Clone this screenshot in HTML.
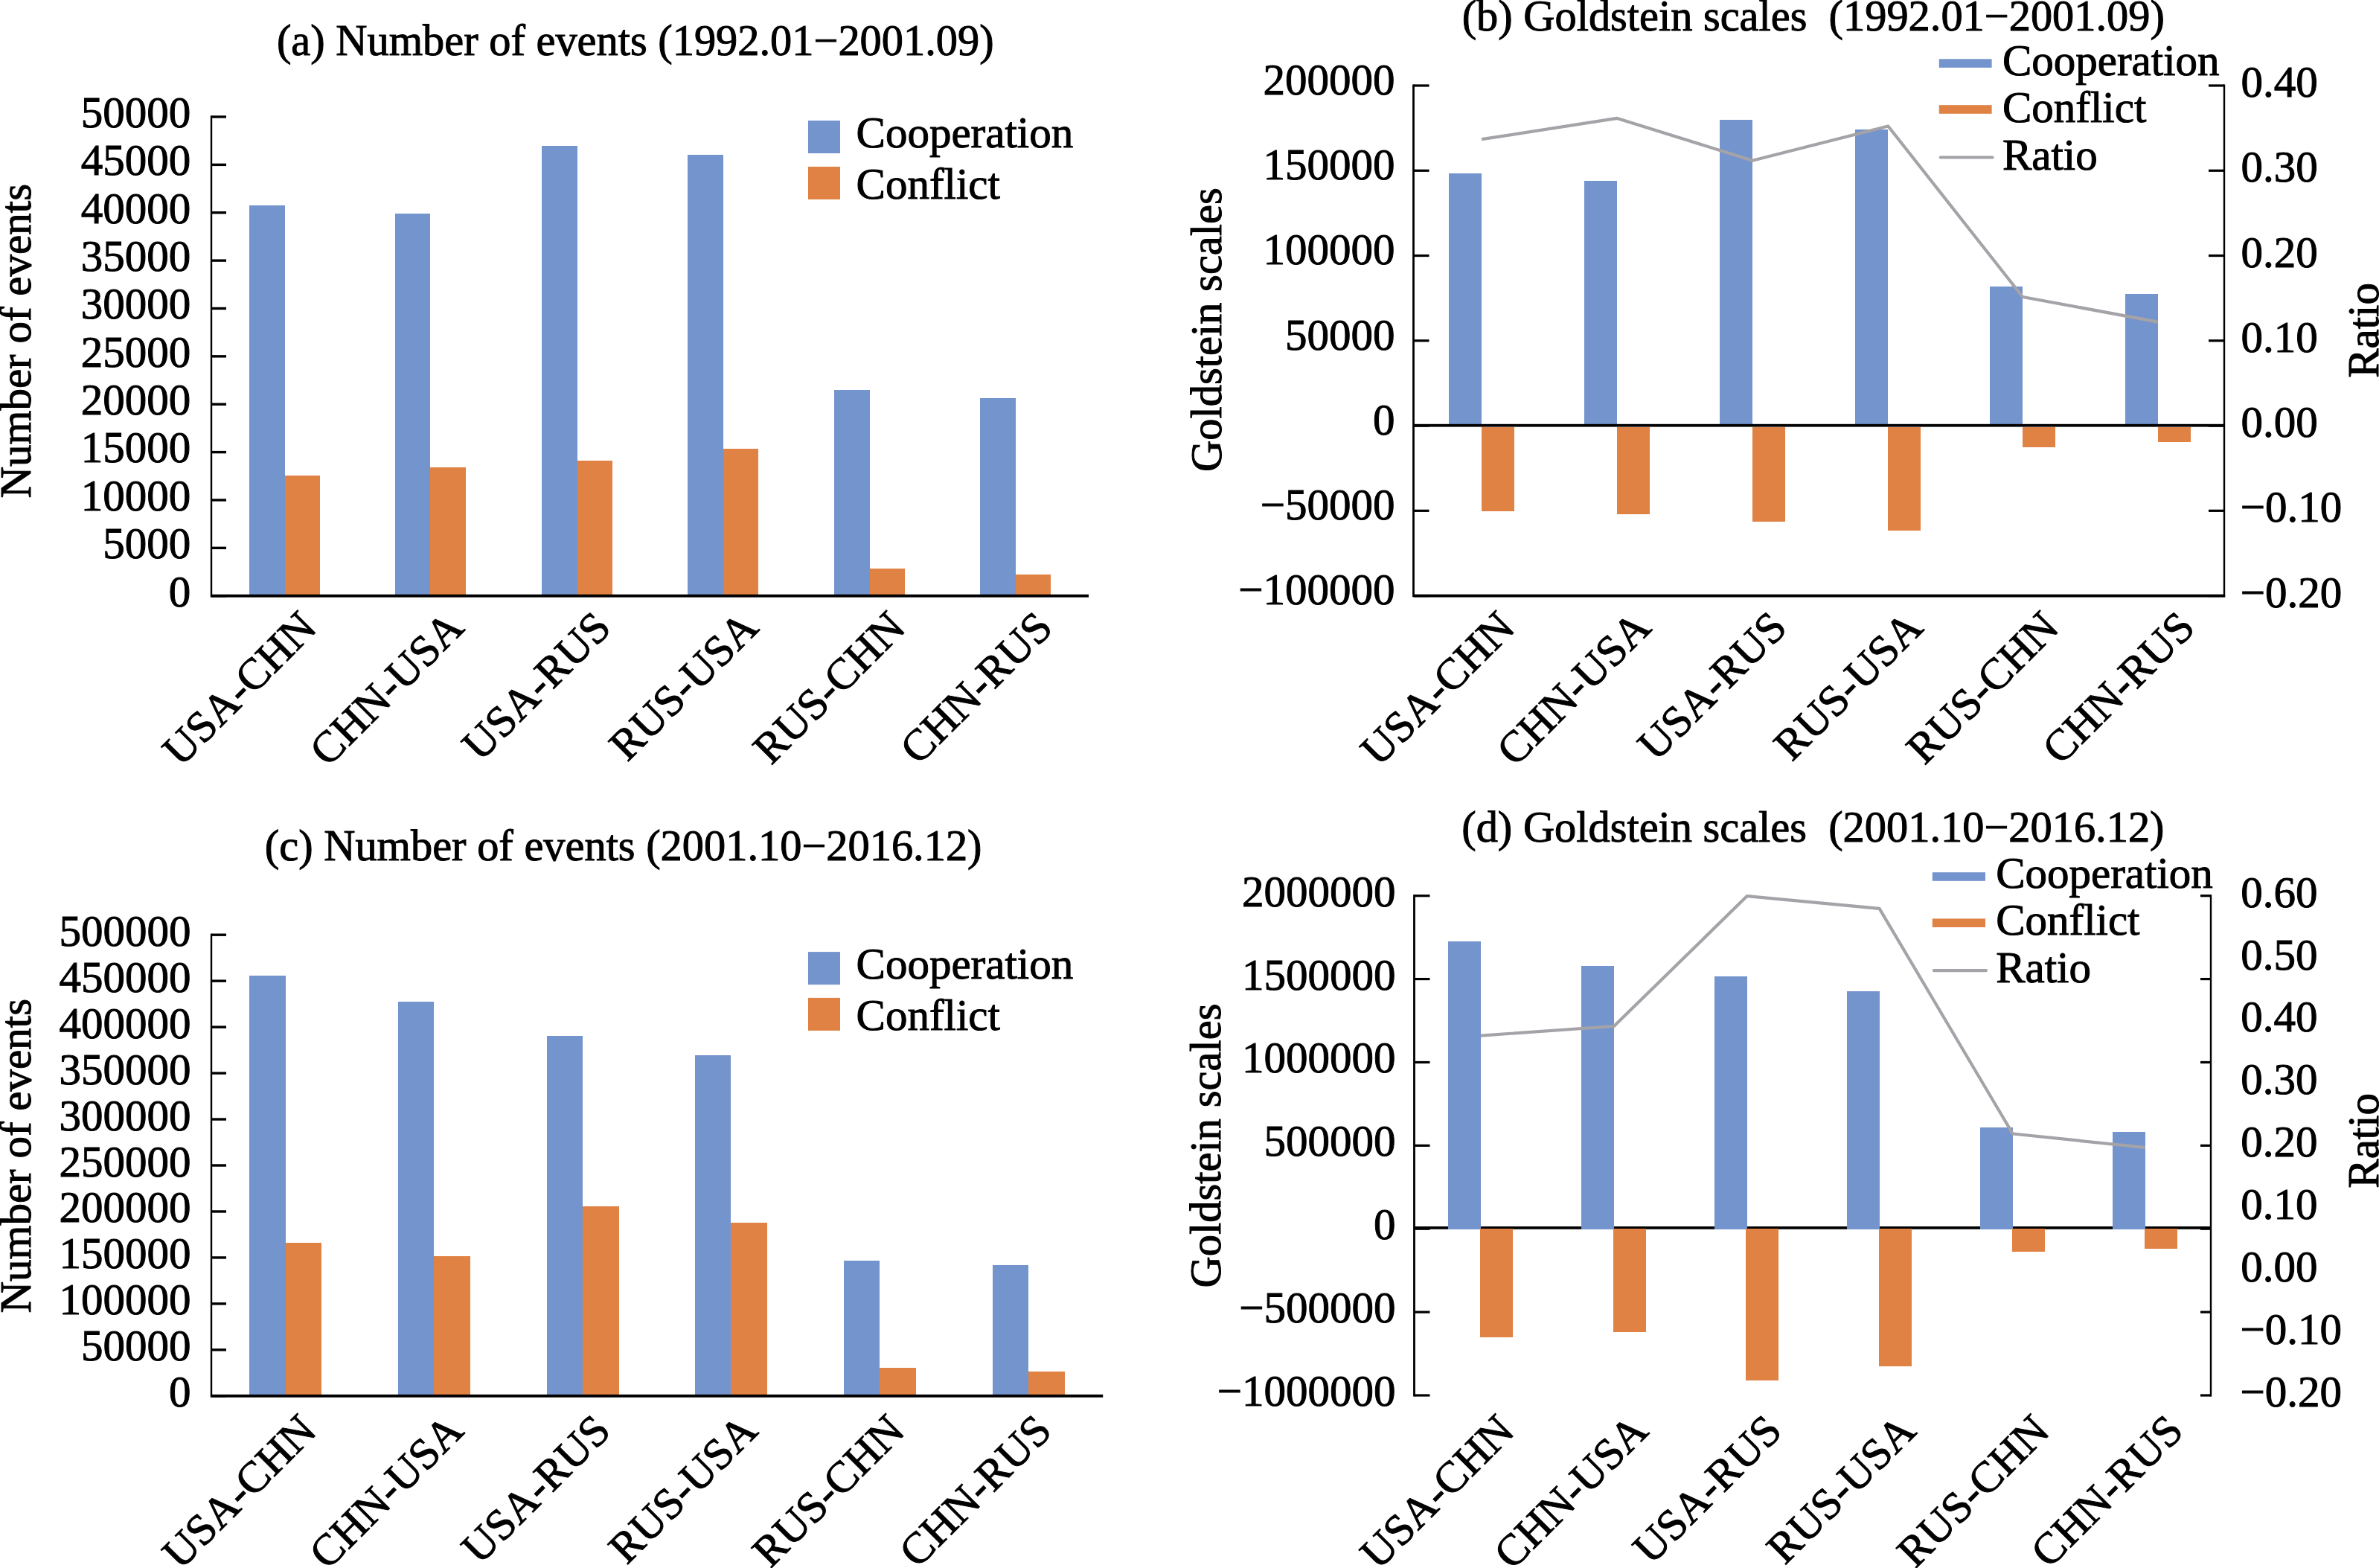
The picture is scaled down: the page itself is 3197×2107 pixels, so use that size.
<!DOCTYPE html>
<html><head><meta charset="utf-8"><style>
html,body{margin:0;padding:0;background:#fff;overflow:hidden;}
svg{display:block;}
text{font-family:"Liberation Serif",serif;fill:#000;white-space:pre;font-variant-ligatures:none;font-feature-settings:"liga" 0,"clig" 0;stroke:#000;stroke-width:1.0px;}
</style></head><body>
<svg width="3197" height="2107" viewBox="0 0 3197 2107">
<rect width="3197" height="2107" fill="#fff"/>
<rect x="335" y="276" width="48" height="523" fill="#7394cd"/>
<rect x="383" y="639" width="47" height="160" fill="#e08243"/>
<rect x="531" y="287" width="47" height="512" fill="#7394cd"/>
<rect x="578" y="628" width="48" height="171" fill="#e08243"/>
<rect x="728" y="196" width="48" height="603" fill="#7394cd"/>
<rect x="776" y="619" width="47" height="180" fill="#e08243"/>
<rect x="924" y="208" width="48" height="591" fill="#7394cd"/>
<rect x="972" y="603" width="47" height="196" fill="#e08243"/>
<rect x="1121" y="524" width="48" height="275" fill="#7394cd"/>
<rect x="1169" y="764" width="47" height="35" fill="#e08243"/>
<rect x="1317" y="535" width="48" height="264" fill="#7394cd"/>
<rect x="1365" y="772" width="47" height="27" fill="#e08243"/>
<rect x="282.80" y="155.50" width="2.40" height="645.20" fill="#000"/>
<rect x="284.00" y="155.30" width="20.00" height="3.40" fill="#000"/>
<text x="256.30" y="170.80" font-size="59" text-anchor="end">50000</text>
<rect x="284.00" y="219.67" width="20.00" height="3.40" fill="#000"/>
<text x="256.30" y="235.17" font-size="59" text-anchor="end">45000</text>
<rect x="284.00" y="284.04" width="20.00" height="3.40" fill="#000"/>
<text x="256.30" y="299.54" font-size="59" text-anchor="end">40000</text>
<rect x="284.00" y="348.41" width="20.00" height="3.40" fill="#000"/>
<text x="256.30" y="363.91" font-size="59" text-anchor="end">35000</text>
<rect x="284.00" y="412.78" width="20.00" height="3.40" fill="#000"/>
<text x="256.30" y="428.28" font-size="59" text-anchor="end">30000</text>
<rect x="284.00" y="477.15" width="20.00" height="3.40" fill="#000"/>
<text x="256.30" y="492.65" font-size="59" text-anchor="end">25000</text>
<rect x="284.00" y="541.52" width="20.00" height="3.40" fill="#000"/>
<text x="256.30" y="557.02" font-size="59" text-anchor="end">20000</text>
<rect x="284.00" y="605.89" width="20.00" height="3.40" fill="#000"/>
<text x="256.30" y="621.39" font-size="59" text-anchor="end">15000</text>
<rect x="284.00" y="670.26" width="20.00" height="3.40" fill="#000"/>
<text x="256.30" y="685.76" font-size="59" text-anchor="end">10000</text>
<rect x="284.00" y="734.63" width="20.00" height="3.40" fill="#000"/>
<text x="256.30" y="750.13" font-size="59" text-anchor="end">5000</text>
<rect x="284.00" y="799.00" width="20.00" height="3.40" fill="#000"/>
<text x="256.30" y="814.50" font-size="59" text-anchor="end">0</text>
<rect x="282.80" y="798.75" width="1180.20" height="3.90" fill="#000"/>
<text x="428.20" y="846.20" font-size="59" text-anchor="end" transform="rotate(-45 428.20 846.20)">USA-CHN</text>
<text x="626.00" y="846.20" font-size="59" text-anchor="end" transform="rotate(-45 626.00 846.20)">CHN-USA</text>
<text x="823.80" y="846.20" font-size="59" text-anchor="end" transform="rotate(-45 823.80 846.20)">USA-RUS</text>
<text x="1021.60" y="846.20" font-size="59" text-anchor="end" transform="rotate(-45 1021.60 846.20)">RUS-USA</text>
<text x="1219.40" y="846.20" font-size="59" text-anchor="end" transform="rotate(-45 1219.40 846.20)">RUS-CHN</text>
<text x="1417.20" y="846.20" font-size="59" text-anchor="end" transform="rotate(-45 1417.20 846.20)">CHN-RUS</text>
<text x="371.93" y="74.10" font-size="58.4">(a) Number of events (1992.01−2001.09)</text>
<rect x="1086.00" y="162.00" width="43.00" height="44.00" fill="#7394cd"/>
<rect x="1086.00" y="224.00" width="43.00" height="44.00" fill="#e08243"/>
<text x="1150.58" y="198.30" font-size="59">Cooperation</text>
<text x="1150.58" y="267.20" font-size="59">Conflict</text>
<text x="41.30" y="669.61" font-size="59" transform="rotate(-90 41.30 669.61)">Number of events</text>
<rect x="335" y="1311" width="49" height="563" fill="#7394cd"/>
<rect x="384" y="1670" width="48" height="204" fill="#e08243"/>
<rect x="535" y="1346" width="48" height="528" fill="#7394cd"/>
<rect x="583" y="1688" width="49" height="186" fill="#e08243"/>
<rect x="735" y="1392" width="48" height="482" fill="#7394cd"/>
<rect x="783" y="1621" width="49" height="253" fill="#e08243"/>
<rect x="934" y="1418" width="48" height="456" fill="#7394cd"/>
<rect x="982" y="1643" width="49" height="231" fill="#e08243"/>
<rect x="1134" y="1694" width="48" height="180" fill="#7394cd"/>
<rect x="1182" y="1838" width="49" height="36" fill="#e08243"/>
<rect x="1334" y="1700" width="48" height="174" fill="#7394cd"/>
<rect x="1382" y="1843" width="49" height="31" fill="#e08243"/>
<rect x="282.80" y="1254.70" width="2.40" height="621.10" fill="#000"/>
<rect x="284.00" y="1254.50" width="20.00" height="3.40" fill="#000"/>
<text x="256.50" y="1270.70" font-size="59" text-anchor="end">500000</text>
<rect x="284.00" y="1316.46" width="20.00" height="3.40" fill="#000"/>
<text x="256.50" y="1332.66" font-size="59" text-anchor="end">450000</text>
<rect x="284.00" y="1378.42" width="20.00" height="3.40" fill="#000"/>
<text x="256.50" y="1394.62" font-size="59" text-anchor="end">400000</text>
<rect x="284.00" y="1440.38" width="20.00" height="3.40" fill="#000"/>
<text x="256.50" y="1456.58" font-size="59" text-anchor="end">350000</text>
<rect x="284.00" y="1502.34" width="20.00" height="3.40" fill="#000"/>
<text x="256.50" y="1518.54" font-size="59" text-anchor="end">300000</text>
<rect x="284.00" y="1564.30" width="20.00" height="3.40" fill="#000"/>
<text x="256.50" y="1580.50" font-size="59" text-anchor="end">250000</text>
<rect x="284.00" y="1626.26" width="20.00" height="3.40" fill="#000"/>
<text x="256.50" y="1642.46" font-size="59" text-anchor="end">200000</text>
<rect x="284.00" y="1688.22" width="20.00" height="3.40" fill="#000"/>
<text x="256.50" y="1704.42" font-size="59" text-anchor="end">150000</text>
<rect x="284.00" y="1750.18" width="20.00" height="3.40" fill="#000"/>
<text x="256.50" y="1766.38" font-size="59" text-anchor="end">100000</text>
<rect x="284.00" y="1812.14" width="20.00" height="3.40" fill="#000"/>
<text x="256.50" y="1828.34" font-size="59" text-anchor="end">50000</text>
<rect x="284.00" y="1874.10" width="20.00" height="3.40" fill="#000"/>
<text x="256.50" y="1890.30" font-size="59" text-anchor="end">0</text>
<rect x="282.80" y="1873.85" width="1199.40" height="3.90" fill="#000"/>
<text x="427.90" y="1925.30" font-size="59" text-anchor="end" transform="rotate(-45 427.90 1925.30)">USA-CHN</text>
<text x="625.50" y="1925.30" font-size="59" text-anchor="end" transform="rotate(-45 625.50 1925.30)">CHN-USA</text>
<text x="823.10" y="1925.30" font-size="59" text-anchor="end" transform="rotate(-45 823.10 1925.30)">USA-RUS</text>
<text x="1020.70" y="1925.30" font-size="59" text-anchor="end" transform="rotate(-45 1020.70 1925.30)">RUS-USA</text>
<text x="1218.30" y="1925.30" font-size="59" text-anchor="end" transform="rotate(-45 1218.30 1925.30)">RUS-CHN</text>
<text x="1415.90" y="1925.30" font-size="59" text-anchor="end" transform="rotate(-45 1415.90 1925.30)">CHN-RUS</text>
<text x="355.83" y="1155.70" font-size="58.4">(c) Number of events (2001.10−2016.12)</text>
<rect x="1086.00" y="1279.10" width="43.00" height="44.00" fill="#7394cd"/>
<rect x="1086.00" y="1340.90" width="43.00" height="44.00" fill="#e08243"/>
<text x="1150.58" y="1315.30" font-size="59">Cooperation</text>
<text x="1150.58" y="1384.20" font-size="59">Conflict</text>
<text x="41.30" y="1764.61" font-size="59" transform="rotate(-90 41.30 1764.61)">Number of events</text>
<rect x="1947" y="233" width="44" height="337" fill="#7394cd"/>
<rect x="1991" y="574" width="44" height="113" fill="#e08243"/>
<rect x="2129" y="243" width="44" height="327" fill="#7394cd"/>
<rect x="2173" y="574" width="44" height="117" fill="#e08243"/>
<rect x="2311" y="161" width="44" height="409" fill="#7394cd"/>
<rect x="2355" y="574" width="44" height="127" fill="#e08243"/>
<rect x="2493" y="174" width="44" height="396" fill="#7394cd"/>
<rect x="2537" y="574" width="44" height="139" fill="#e08243"/>
<rect x="2674" y="385" width="44" height="185" fill="#7394cd"/>
<rect x="2718" y="574" width="44" height="27" fill="#e08243"/>
<rect x="2856" y="395" width="44" height="175" fill="#7394cd"/>
<rect x="2900" y="574" width="44" height="20" fill="#e08243"/>
<rect x="1899.50" y="569.80" width="1089.50" height="3.80" fill="#000"/>
<rect x="1898.10" y="113.50" width="2.80" height="688.60" fill="#000"/>
<rect x="2987.80" y="113.50" width="2.40" height="688.60" fill="#000"/>
<rect x="1899.50" y="113.40" width="21.00" height="3.20" fill="#000"/>
<rect x="2968.00" y="113.40" width="21.00" height="3.20" fill="#000"/>
<text x="1874.60" y="126.70" font-size="59" text-anchor="end">200000</text>
<rect x="1899.50" y="227.67" width="21.00" height="3.20" fill="#000"/>
<rect x="2968.00" y="227.67" width="21.00" height="3.20" fill="#000"/>
<text x="1874.60" y="240.97" font-size="59" text-anchor="end">150000</text>
<rect x="1899.50" y="341.93" width="21.00" height="3.20" fill="#000"/>
<rect x="2968.00" y="341.93" width="21.00" height="3.20" fill="#000"/>
<text x="1874.60" y="355.23" font-size="59" text-anchor="end">100000</text>
<rect x="1899.50" y="456.20" width="21.00" height="3.20" fill="#000"/>
<rect x="2968.00" y="456.20" width="21.00" height="3.20" fill="#000"/>
<text x="1874.60" y="469.50" font-size="59" text-anchor="end">50000</text>
<rect x="1899.50" y="570.47" width="21.00" height="3.20" fill="#000"/>
<rect x="2968.00" y="570.47" width="21.00" height="3.20" fill="#000"/>
<text x="1874.60" y="583.77" font-size="59" text-anchor="end">0</text>
<rect x="1899.50" y="684.73" width="21.00" height="3.20" fill="#000"/>
<rect x="2968.00" y="684.73" width="21.00" height="3.20" fill="#000"/>
<text x="1874.60" y="698.03" font-size="59" text-anchor="end">−50000</text>
<rect x="1899.50" y="799.00" width="21.00" height="3.20" fill="#000"/>
<rect x="2968.00" y="799.00" width="21.00" height="3.20" fill="#000"/>
<text x="1874.60" y="812.30" font-size="59" text-anchor="end">−100000</text>
<rect x="1899.50" y="798.65" width="1090.70" height="3.90" fill="#000"/>
<text x="3011.51" y="130.00" font-size="59">0.40</text>
<text x="3011.51" y="244.27" font-size="59">0.30</text>
<text x="3011.51" y="358.54" font-size="59">0.20</text>
<text x="3011.51" y="472.81" font-size="59">0.10</text>
<text x="3011.51" y="587.08" font-size="59">0.00</text>
<text x="3010.80" y="701.35" font-size="59">−0.10</text>
<text x="3010.80" y="815.62" font-size="59">−0.20</text>
<polyline points="1991.10,187.20 2173.20,158.90 2355.00,215.70 2537.30,169.50 2718.20,399.00 2900.00,432.60" fill="none" stroke="#a5a3a8" stroke-width="4.2" stroke-linejoin="round" stroke-linecap="butt"/>
<text x="2038.30" y="846.10" font-size="59" text-anchor="end" transform="rotate(-45 2038.30 846.10)">USA-CHN</text>
<text x="2221.08" y="846.10" font-size="59" text-anchor="end" transform="rotate(-45 2221.08 846.10)">CHN-USA</text>
<text x="2403.86" y="846.10" font-size="59" text-anchor="end" transform="rotate(-45 2403.86 846.10)">USA-RUS</text>
<text x="2586.64" y="846.10" font-size="59" text-anchor="end" transform="rotate(-45 2586.64 846.10)">RUS-USA</text>
<text x="2769.42" y="846.10" font-size="59" text-anchor="end" transform="rotate(-45 2769.42 846.10)">RUS-CHN</text>
<text x="2952.20" y="846.10" font-size="59" text-anchor="end" transform="rotate(-45 2952.20 846.10)">CHN-RUS</text>
<text x="1964.63" y="40.70" font-size="58.4">(b) Goldstein scales  (1992.01−2001.09)</text>
<rect x="2605.80" y="79.30" width="70.80" height="11.60" fill="#7394cd"/>
<rect x="2605.80" y="141.20" width="70.80" height="11.60" fill="#e08243"/>
<line x1="2607.80" y1="211.50" x2="2677.60" y2="211.50" stroke="#a5a3a8" stroke-width="4.2" stroke-linecap="round"/>
<text x="2690.93" y="100.60" font-size="59">Cooperation</text>
<text x="2690.93" y="164.20" font-size="59">Conflict</text>
<text x="2690.93" y="227.80" font-size="59">Ratio</text>
<text x="1640.50" y="634.00" font-size="58.5" transform="rotate(-90 1640.50 634.00)">Goldstein scales</text>
<text x="3195.80" y="507.81" font-size="59" transform="rotate(-90 3195.80 507.81)">Ratio</text>
<rect x="1900.50" y="1648.00" width="1070.50" height="3.80" fill="#000"/>
<rect x="1946" y="1265" width="44" height="387" fill="#7394cd"/>
<rect x="1989" y="1651" width="44" height="146" fill="#e08243"/>
<rect x="2125" y="1298" width="44" height="354" fill="#7394cd"/>
<rect x="2168" y="1651" width="44" height="139" fill="#e08243"/>
<rect x="2304" y="1312" width="44" height="340" fill="#7394cd"/>
<rect x="2346" y="1651" width="44" height="204" fill="#e08243"/>
<rect x="2482" y="1332" width="44" height="320" fill="#7394cd"/>
<rect x="2525" y="1651" width="44" height="185" fill="#e08243"/>
<rect x="2661" y="1515" width="44" height="137" fill="#7394cd"/>
<rect x="2704" y="1651" width="44" height="31" fill="#e08243"/>
<rect x="2839" y="1521" width="44" height="131" fill="#7394cd"/>
<rect x="2882" y="1651" width="44" height="27" fill="#e08243"/>
<rect x="1899.10" y="1202.20" width="2.80" height="674.30" fill="#000"/>
<rect x="2969.80" y="1202.20" width="2.40" height="674.30" fill="#000"/>
<rect x="1900.50" y="1202.10" width="21.00" height="3.20" fill="#000"/>
<rect x="2957.00" y="1202.10" width="14.00" height="3.20" fill="#000"/>
<text x="1875.50" y="1217.70" font-size="59" text-anchor="end">2000000</text>
<rect x="1900.50" y="1313.98" width="21.00" height="3.20" fill="#000"/>
<rect x="2957.00" y="1313.98" width="14.00" height="3.20" fill="#000"/>
<text x="1875.50" y="1329.58" font-size="59" text-anchor="end">1500000</text>
<rect x="1900.50" y="1425.87" width="21.00" height="3.20" fill="#000"/>
<rect x="2957.00" y="1425.87" width="14.00" height="3.20" fill="#000"/>
<text x="1875.50" y="1441.47" font-size="59" text-anchor="end">1000000</text>
<rect x="1900.50" y="1537.75" width="21.00" height="3.20" fill="#000"/>
<rect x="2957.00" y="1537.75" width="14.00" height="3.20" fill="#000"/>
<text x="1875.50" y="1553.35" font-size="59" text-anchor="end">500000</text>
<rect x="1900.50" y="1649.63" width="21.00" height="3.20" fill="#000"/>
<rect x="2957.00" y="1649.63" width="14.00" height="3.20" fill="#000"/>
<text x="1875.50" y="1665.23" font-size="59" text-anchor="end">0</text>
<rect x="1900.50" y="1761.52" width="21.00" height="3.20" fill="#000"/>
<rect x="2957.00" y="1761.52" width="14.00" height="3.20" fill="#000"/>
<text x="1875.50" y="1777.12" font-size="59" text-anchor="end">−500000</text>
<rect x="1900.50" y="1873.40" width="21.00" height="3.20" fill="#000"/>
<rect x="2957.00" y="1873.40" width="14.00" height="3.20" fill="#000"/>
<text x="1875.50" y="1889.00" font-size="59" text-anchor="end">−1000000</text>
<text x="3011.16" y="1218.70" font-size="59">0.60</text>
<text x="3011.16" y="1302.57" font-size="59">0.50</text>
<text x="3011.16" y="1386.44" font-size="59">0.40</text>
<text x="3011.16" y="1470.31" font-size="59">0.30</text>
<text x="3011.16" y="1554.18" font-size="59">0.20</text>
<text x="3011.16" y="1638.05" font-size="59">0.10</text>
<text x="3011.16" y="1721.92" font-size="59">0.00</text>
<text x="3010.45" y="1805.79" font-size="59">−0.10</text>
<text x="3010.45" y="1889.66" font-size="59">−0.20</text>
<polyline points="1989.90,1391.60 2168.90,1379.00 2347.80,1204.10 2525.60,1220.90 2704.80,1523.50 2882.70,1542.00" fill="none" stroke="#a5a3a8" stroke-width="4.2" stroke-linejoin="round" stroke-linecap="butt"/>
<text x="2037.70" y="1925.50" font-size="59" text-anchor="end" transform="rotate(-45 2037.70 1925.50)">USA-CHN</text>
<text x="2217.50" y="1925.50" font-size="59" text-anchor="end" transform="rotate(-45 2217.50 1925.50)">CHN-USA</text>
<text x="2397.30" y="1925.50" font-size="59" text-anchor="end" transform="rotate(-45 2397.30 1925.50)">USA-RUS</text>
<text x="2577.10" y="1925.50" font-size="59" text-anchor="end" transform="rotate(-45 2577.10 1925.50)">RUS-USA</text>
<text x="2756.90" y="1925.50" font-size="59" text-anchor="end" transform="rotate(-45 2756.90 1925.50)">RUS-CHN</text>
<text x="2936.70" y="1925.50" font-size="59" text-anchor="end" transform="rotate(-45 2936.70 1925.50)">CHN-RUS</text>
<text x="1964.23" y="1130.50" font-size="58.4">(d) Goldstein scales  (2001.10−2016.12)</text>
<rect x="2596.80" y="1172.20" width="71.20" height="11.60" fill="#7394cd"/>
<rect x="2596.80" y="1234.40" width="71.20" height="11.60" fill="#e08243"/>
<line x1="2598.80" y1="1304.10" x2="2669.00" y2="1304.10" stroke="#a5a3a8" stroke-width="4.2" stroke-linecap="round"/>
<text x="2682.13" y="1193.30" font-size="59">Cooperation</text>
<text x="2682.13" y="1256.20" font-size="59">Conflict</text>
<text x="2682.13" y="1320.00" font-size="59">Ratio</text>
<text x="1640.50" y="1730.40" font-size="58.5" transform="rotate(-90 1640.50 1730.40)">Goldstein scales</text>
<text x="3195.80" y="1596.71" font-size="59" transform="rotate(-90 3195.80 1596.71)">Ratio</text>
</svg></body></html>
